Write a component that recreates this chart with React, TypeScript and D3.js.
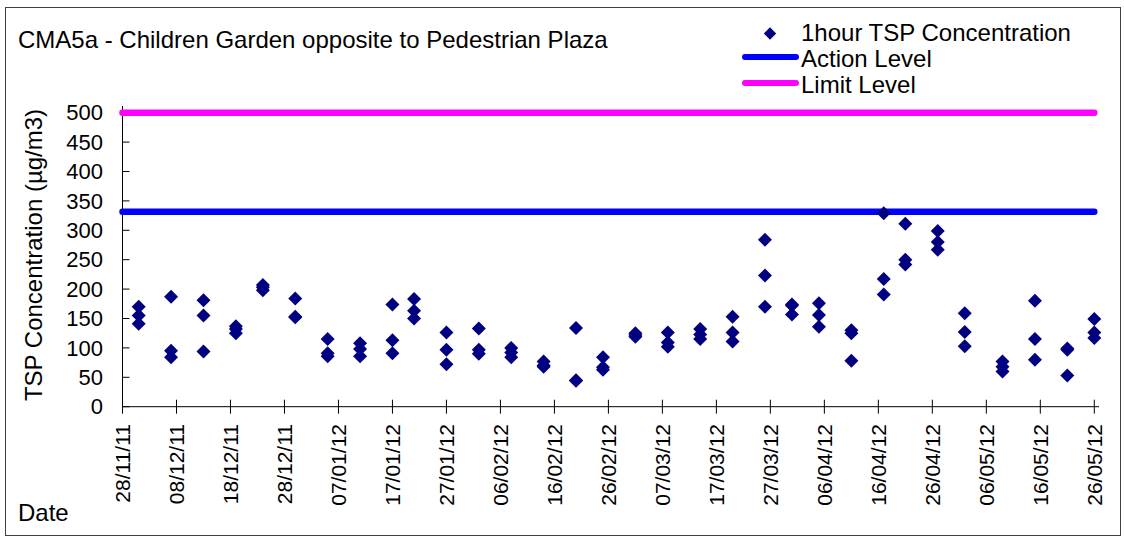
import React from 'react';
import * as d3 from 'd3';

// sampling days (3 one-hour readings each)
const sampleDates = [
  '01/12/11', '07/12/11', '13/12/11', '19/12/11', '24/12/11', '30/12/11',
  '05/01/12', '11/01/12', '17/01/12', '21/01/12', '27/01/12', '02/02/12',
  '08/02/12', '14/02/12', '20/02/12', '25/02/12', '02/03/12', '08/03/12',
  '14/03/12', '20/03/12', '26/03/12', '31/03/12', '05/04/12', '11/04/12',
  '17/04/12', '21/04/12', '27/04/12', '02/05/12', '09/05/12', '15/05/12',
  '21/05/12', '26/05/12'
];
const reading1 = [170, 187, 181, 137, 207, 184, 115, 108, 174, 183, 126, 133, 100, 77, 134, 84, 125, 126, 132, 153, 284, 174, 176, 130, 329, 311, 299, 159, 77, 180, 99, 149];
const reading2 = [155, 95, 155, 132, 203, 153, 91, 98, 113, 163, 97, 97, 92, 70, 45, 67, 122, 109, 123, 126, 223, 172, 156, 125, 217, 250, 280, 127, 68, 115, 97, 126];
const reading3 = [141, 84, 94, 125, 198, 152, 86, 86, 91, 150, 72, 90, 84, 68, 44, 63, 119, 102, 115, 111, 170, 157, 136, 78, 191, 242, 267, 103, 60, 80, 53, 117];

const actionLevel = 331.5;
const limitLevel = 500;

const tickLabels = [
  '28/11/11', '08/12/11', '18/12/11', '28/12/11', '07/01/12', '17/01/12',
  '27/01/12', '06/02/12', '16/02/12', '26/02/12', '07/03/12', '17/03/12',
  '27/03/12', '06/04/12', '16/04/12', '26/04/12', '06/05/12', '16/05/12',
  '26/05/12'
];
const yTicks = [0, 50, 100, 150, 200, 250, 300, 350, 400, 450, 500];

const FONT = '"Liberation Sans", Arial, sans-serif';
const NAVY = '#000080';

export default function App() {
  const W = 1124;
  const H = 538;
  const parse = d3.timeParse('%d/%m/%y');
  const ticks = tickLabels.map((t) => parse(t));

  const x = d3.scaleTime()
    .domain([ticks[0], ticks[ticks.length - 1]])
    .range([122.5, 1094.3]);
  const y = d3.scaleLinear().domain([0, 500]).range([406.7, 112.7]);

  const points = [];
  sampleDates.forEach((d, i) => {
    const dt = parse(d);
    [reading1[i], reading2[i], reading3[i]].forEach((v) => points.push({ date: dt, value: v }));
  });

  const diamond = 'M0,-7L7,0L0,7L-7,0Z';
  const x0 = x(ticks[0]);
  const x1 = x(ticks[ticks.length - 1]);

  return (
    <svg width={W} height={H} style={{ position: 'fixed', left: 0, top: 0, background: '#fff' }} fontFamily={FONT}>
      <rect x={5.5} y={7.5} width={1115} height={528} fill="#fff" stroke="#404040" strokeWidth={1} />

      <text x={18} y={47.7} fontSize={24} fill="#000">CMA5a - Children Garden opposite to Pedestrian Plaza</text>

      {/* legend */}
      <path d={diamond} transform="translate(770,33.5) scale(0.88)" fill={NAVY} />
      <text x={801} y={40.7} fontSize={24}>1hour TSP Concentration</text>
      <line x1={745} x2={796} y1={57} y2={57} stroke="#0000ff" strokeWidth={6} strokeLinecap="round" />
      <text x={801} y={66.7} fontSize={24}>Action Level</text>
      <line x1={745} x2={796} y1={83} y2={83} stroke="#ff00ff" strokeWidth={6} strokeLinecap="round" />
      <text x={801} y={93} fontSize={24}>Limit Level</text>

      {/* y axis */}
      <line x1={x0} x2={x0} y1={y(0)} y2={106} stroke="#000" strokeWidth={1} />
      {yTicks.map((t) => (
        <g key={t}>
          <line x1={x0} x2={x0 + 7} y1={y(t)} y2={y(t)} stroke="#000" strokeWidth={1} />
          <text x={103} y={y(t)} dy="0.35em" textAnchor="end" fontSize={22}>{t}</text>
        </g>
      ))}
      <text transform={`translate(42,255) rotate(-90)`} textAnchor="middle" fontSize={24}>TSP Concentration (µg/m3)</text>

      {/* x axis */}
      <line x1={x0} x2={1099} y1={y(0)} y2={y(0)} stroke="#000" strokeWidth={1} />
      {ticks.map((t, i) => (
        <g key={tickLabels[i]}>
          <line x1={x(t)} x2={x(t)} y1={y(0) - 7} y2={y(0) + 7} stroke="#000" strokeWidth={1} />
          <text transform={`translate(${x(t)},424) rotate(-90)`} textAnchor="end" dy="0.35em" fontSize={21}>{tickLabels[i]}</text>
        </g>
      ))}
      <text x={18} y={521} fontSize={24}>Date</text>

      {/* levels */}
      <line x1={x0} x2={x1} y1={y(limitLevel)} y2={y(limitLevel)} stroke="#ff00ff" strokeWidth={6.5} strokeLinecap="round" />
      <line x1={x0} x2={x1} y1={y(actionLevel)} y2={y(actionLevel)} stroke="#0000ff" strokeWidth={6.5} strokeLinecap="round" />

      {/* readings */}
      {points.map((p, i) => (
        <path key={i} d={diamond} transform={`translate(${x(p.date)},${y(p.value)})`} fill={NAVY} />
      ))}
    </svg>
  );
}
